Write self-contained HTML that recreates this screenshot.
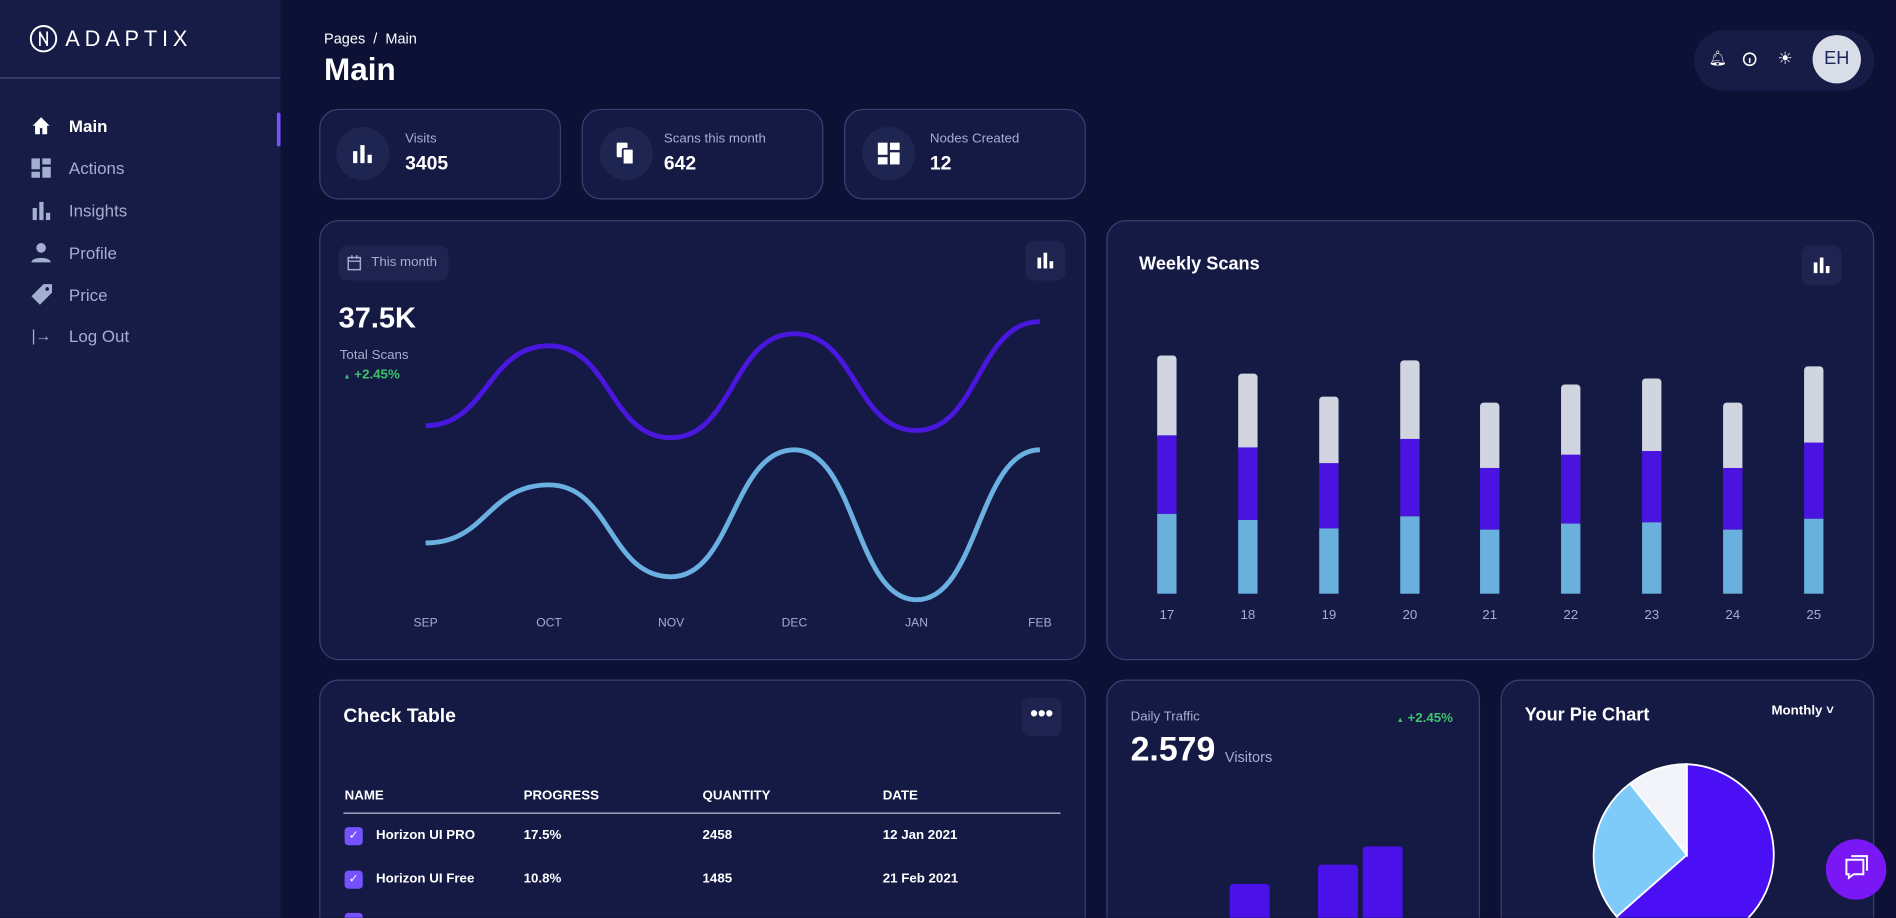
<!DOCTYPE html>
<html><head><meta charset="utf-8"><style>
*{margin:0;padding:0;box-sizing:border-box}
html,body{width:1896px;height:918px;overflow:hidden;background:#0e1136;font-family:"Liberation Sans",sans-serif}
#w{width:1568px;height:759px;transform:scale(1.20918);transform-origin:0 0;position:relative;background:#0e1136;overflow:hidden}
.a{position:absolute}
.card{position:absolute;background:#151a45;border:1px solid #3a4070;border-radius:16px}
.t{position:absolute;color:#fff;white-space:nowrap}
.g{color:#a3aed0}
</style></head><body><div id="w">
<div class="a" style="left:0;top:0;width:232px;height:759px;background:#171c47"></div>
<svg class="a" style="left:24px;top:20px" width="24" height="24"><circle cx="12" cy="12" r="10.5" fill="none" stroke="#fff" stroke-width="1.6"/><path d="M9 6v12M15 6v12M9 7l6 10" stroke="#fff" stroke-width="1.4" fill="none"/></svg>
<div class="t" style="left:54px;top:22px;font-size:18px;letter-spacing:4px;font-weight:300">ADAPTIX</div>
<div class="a" style="left:0;top:64px;width:232px;height:1px;background:#4a5080"></div>
<div class="a" style="left:229px;top:93px;width:3px;height:28px;background:#7551ff;border-radius:2px"></div>
<svg class="a" style="left:25px;top:95px" width="18" height="18"><path d="M2 9L9 2l7 7h-2v7h-4v-5H8v5H4V9z" fill="#fff"/></svg>
<div class="t" style="left:57px;top:96px;font-size:14px;font-weight:bold">Main</div>
<svg class="a" style="left:25px;top:130px" width="18" height="18"><rect x="1" y="1" width="7" height="9" fill="#a3aed0"/><rect x="10" y="1" width="7" height="5" fill="#a3aed0"/><rect x="1" y="12" width="7" height="5" fill="#a3aed0"/><rect x="10" y="8" width="7" height="9" fill="#a3aed0"/></svg>
<div class="t g" style="left:57px;top:131px;font-size:14px">Actions</div>
<svg class="a" style="left:25px;top:165px" width="18" height="18"><rect x="2" y="7" width="3.5" height="10" fill="#a3aed0"/><rect x="7.5" y="2" width="3.5" height="15" fill="#a3aed0"/><rect x="13" y="11" width="3.5" height="6" fill="#a3aed0"/></svg>
<div class="t g" style="left:57px;top:166px;font-size:14px">Insights</div>
<svg class="a" style="left:25px;top:200px" width="18" height="18"><circle cx="9" cy="5" r="4" fill="#a3aed0"/><path d="M1 17c0-5 16-5 16 0z" fill="#a3aed0"/></svg>
<div class="t g" style="left:57px;top:201px;font-size:14px">Profile</div>
<svg class="a" style="left:24px;top:234px" width="20" height="20"><path d="M12 1h7v7L9 18 2 11z" fill="#a3aed0"/><circle cx="15" cy="5" r="1.5" fill="#171c47"/></svg>
<div class="t g" style="left:57px;top:236px;font-size:14px">Price</div>
<div class="t g" style="left:26px;top:270px;font-size:13px">|→</div>
<div class="t g" style="left:57px;top:270px;font-size:14px">Log Out</div>

<div class="t" style="left:268px;top:25px;font-size:12px">Pages &nbsp;/&nbsp; Main</div>
<div class="t" style="left:268px;top:42px;font-size:26px;font-weight:bold">Main</div>
<div class="a" style="left:1401px;top:25px;width:149px;height:50px;background:#171c47;border-radius:25px"></div>
<div class="t" style="left:1413px;top:41px;font-size:12px">🔔︎</div>
<svg class="a" style="left:1441px;top:43px" width="12" height="12"><circle cx="6" cy="6" r="5" stroke="#fff" fill="none" stroke-width="1.3"/><path d="M6 5v4" stroke="#fff" stroke-width="1.3"/></svg>
<div class="t" style="left:1470px;top:40px;font-size:14px">☀</div>
<div class="a" style="left:1499px;top:29px;width:40px;height:40px;border-radius:50%;background:#d9dde8;color:#1b2559;font-size:15px;text-align:center;line-height:40px">EH</div>

<div class="card" style="left:264px;top:90px;width:200px;height:75px"></div>
<div class="card" style="left:481px;top:90px;width:200px;height:75px"></div>
<div class="card" style="left:698px;top:90px;width:200px;height:75px"></div>
<div class="a" style="left:278px;top:105px;width:44px;height:44px;border-radius:50%;background:#1f2551"></div>
<div class="a" style="left:496px;top:105px;width:44px;height:44px;border-radius:50%;background:#1f2551"></div>
<div class="a" style="left:713px;top:105px;width:44px;height:44px;border-radius:50%;background:#1f2551"></div>
<svg class="a" style="left:291px;top:119px" width="18" height="16"><rect x="1" y="6" width="3.5" height="10" fill="#fff"/><rect x="7" y="1" width="3.5" height="15" fill="#fff"/><rect x="13" y="9" width="3.5" height="7" fill="#fff"/></svg>
<svg class="a" style="left:508px;top:117px" width="18" height="20"><rect x="2" y="1" width="9" height="12" rx="1" fill="#fff"/><rect x="7" y="6" width="9" height="13" rx="1" fill="#fff" stroke="#1f2551" stroke-width="1.5"/></svg>
<svg class="a" style="left:725px;top:117px" width="20" height="20"><rect x="1" y="1" width="8" height="10" fill="#fff"/><rect x="11" y="1" width="8" height="6" fill="#fff"/><rect x="1" y="13" width="8" height="6" fill="#fff"/><rect x="11" y="9" width="8" height="10" fill="#fff"/></svg>
<div class="t g" style="left:335px;top:109px;font-size:11px">Visits</div>
<div class="t" style="left:335px;top:127px;font-size:16px;font-weight:bold">3405</div>
<div class="t g" style="left:549px;top:109px;font-size:11px">Scans this month</div>
<div class="t" style="left:549px;top:127px;font-size:16px;font-weight:bold">642</div>
<div class="t g" style="left:769px;top:109px;font-size:11px">Nodes Created</div>
<div class="t" style="left:769px;top:127px;font-size:16px;font-weight:bold">12</div>

<div class="card" style="left:264px;top:182px;width:634px;height:364px"></div>
<div class="a" style="left:280px;top:203px;width:91px;height:29px;background:#1e2350;border-radius:7px"></div>
<svg class="a" style="left:287px;top:211px" width="12" height="13"><rect x="1" y="2" width="10" height="10" fill="none" stroke="#a3aed0" stroke-width="1.2"/><path d="M1 5h10M4 0v3M8 0v3" stroke="#a3aed0" stroke-width="1.2"/></svg>
<div class="t g" style="left:307px;top:211px;font-size:11px">This month</div>
<div class="a" style="left:848px;top:199px;width:33px;height:33px;background:#1e2350;border-radius:7px"></div>
<svg class="a" style="left:857px;top:208px" width="16" height="14"><rect x="1" y="5" width="3" height="9" fill="#fff"/><rect x="6" y="1" width="3" height="13" fill="#fff"/><rect x="11" y="8" width="3" height="6" fill="#fff"/></svg>
<div class="t" style="left:280px;top:250px;font-size:24px;font-weight:bold">37.5K</div>
<div class="t g" style="left:281px;top:288px;font-size:11px">Total Scans</div>
<div class="t" style="left:284px;top:304px;font-size:11px;color:#3cc36a;font-weight:bold"><span style="font-size:6px">▲</span> +2.45%</div>
<svg class="a" style="left:0;top:0" width="900" height="560">
<path d="M352 352 C403 352 403 286 454 286 S504 362 555 362 S606 276 657 276 S707 356 758 356 S809 266 860 266" fill="none" stroke="#4a17e0" stroke-width="4"/>
<path d="M352 449 C403 449 403 401 454 401 S504 477 555 477 S606 372 657 372 S707 496 758 496 S809 372 860 372" fill="none" stroke="#6ab0e0" stroke-width="4"/>
<g fill="#a3aed0" font-size="10" text-anchor="middle" font-family="Liberation Sans"><text x="352" y="518">SEP</text><text x="454" y="518">OCT</text><text x="555" y="518">NOV</text><text x="657" y="518">DEC</text><text x="758" y="518">JAN</text><text x="860" y="518">FEB</text></g>
</svg>

<div class="card" style="left:915px;top:182px;width:635px;height:364px"></div>
<div class="t" style="left:942px;top:210px;font-size:15px;font-weight:bold">Weekly Scans</div>
<div class="a" style="left:1490px;top:203px;width:33px;height:33px;background:#1e2350;border-radius:7px"></div>
<svg class="a" style="left:1499px;top:212px" width="16" height="14"><rect x="1" y="5" width="3" height="9" fill="#fff"/><rect x="6" y="1" width="3" height="13" fill="#fff"/><rect x="11" y="8" width="3" height="6" fill="#fff"/></svg>
<svg class="a" style="left:0;top:0" width="1568" height="560">
<g font-family="Liberation Sans" font-size="11" fill="#a3aed0" text-anchor="middle">
<text x="965" y="512">17</text><text x="1032" y="512">18</text><text x="1099" y="512">19</text><text x="1166" y="512">20</text><text x="1232" y="512">21</text><text x="1299" y="512">22</text><text x="1366" y="512">23</text><text x="1433" y="512">24</text><text x="1500" y="512">25</text></g>
<g>
<rect x="957" y="294" width="16" height="70" rx="3" fill="#d0d5e0"/><rect x="957" y="360" width="16" height="65" fill="#4a13e0"/><rect x="957" y="425" width="16" height="66" fill="#6ab0dc"/>
<rect x="1024" y="309" width="16" height="65" rx="3" fill="#d0d5e0"/><rect x="1024" y="370" width="16" height="60" fill="#4a13e0"/><rect x="1024" y="430" width="16" height="61" fill="#6ab0dc"/>
<rect x="1091" y="328" width="16" height="59" rx="3" fill="#d0d5e0"/><rect x="1091" y="383" width="16" height="54" fill="#4a13e0"/><rect x="1091" y="437" width="16" height="54" fill="#6ab0dc"/>
<rect x="1158" y="298" width="16" height="69" rx="3" fill="#d0d5e0"/><rect x="1158" y="363" width="16" height="64" fill="#4a13e0"/><rect x="1158" y="427" width="16" height="64" fill="#6ab0dc"/>
<rect x="1224" y="333" width="16" height="58" rx="3" fill="#d0d5e0"/><rect x="1224" y="387" width="16" height="51" fill="#4a13e0"/><rect x="1224" y="438" width="16" height="53" fill="#6ab0dc"/>
<rect x="1291" y="318" width="16" height="62" rx="3" fill="#d0d5e0"/><rect x="1291" y="376" width="16" height="57" fill="#4a13e0"/><rect x="1291" y="433" width="16" height="58" fill="#6ab0dc"/>
<rect x="1358" y="313" width="16" height="64" rx="3" fill="#d0d5e0"/><rect x="1358" y="373" width="16" height="59" fill="#4a13e0"/><rect x="1358" y="432" width="16" height="59" fill="#6ab0dc"/>
<rect x="1425" y="333" width="16" height="58" rx="3" fill="#d0d5e0"/><rect x="1425" y="387" width="16" height="51" fill="#4a13e0"/><rect x="1425" y="438" width="16" height="53" fill="#6ab0dc"/>
<rect x="1492" y="303" width="16" height="67" rx="3" fill="#d0d5e0"/><rect x="1492" y="366" width="16" height="63" fill="#4a13e0"/><rect x="1492" y="429" width="16" height="62" fill="#6ab0dc"/>
</g></svg>

<div class="card" style="left:264px;top:562px;width:634px;height:220px"></div>
<div class="t" style="left:284px;top:584px;font-size:16px;font-weight:bold">Check Table</div>
<div class="a" style="left:845px;top:577px;width:33px;height:32px;background:#1e2350;border-radius:7px;color:#fff;text-align:center;font-size:18px;line-height:26px;font-weight:bold">•••</div>
<div class="t" style="left:285px;top:652px;font-size:11px;font-weight:bold">NAME</div>
<div class="t" style="left:433px;top:652px;font-size:11px;font-weight:bold">PROGRESS</div>
<div class="t" style="left:581px;top:652px;font-size:11px;font-weight:bold">QUANTITY</div>
<div class="t" style="left:730px;top:652px;font-size:11px;font-weight:bold">DATE</div>
<div class="a" style="left:284px;top:672px;width:593px;height:1px;background:#c0c4d8"></div>
<div class="a" style="left:285px;top:684px;width:15px;height:15px;background:#7551ff;border-radius:3px;color:#fff;font-size:10px;text-align:center;line-height:15px">✓</div>
<div class="t" style="left:311px;top:685px;font-size:11px;font-weight:bold">Horizon UI PRO</div>
<div class="t" style="left:433px;top:685px;font-size:11px;font-weight:bold">17.5%</div>
<div class="t" style="left:581px;top:685px;font-size:11px;font-weight:bold">2458</div>
<div class="t" style="left:730px;top:685px;font-size:11px;font-weight:bold">12 Jan 2021</div>
<div class="a" style="left:285px;top:720px;width:15px;height:15px;background:#7551ff;border-radius:3px;color:#fff;font-size:10px;text-align:center;line-height:15px">✓</div>
<div class="t" style="left:311px;top:721px;font-size:11px;font-weight:bold">Horizon UI Free</div>
<div class="t" style="left:433px;top:721px;font-size:11px;font-weight:bold">10.8%</div>
<div class="t" style="left:581px;top:721px;font-size:11px;font-weight:bold">1485</div>
<div class="t" style="left:730px;top:721px;font-size:11px;font-weight:bold">21 Feb 2021</div>
<div class="a" style="left:285px;top:755px;width:15px;height:15px;background:#7551ff;border-radius:3px"></div>

<div class="card" style="left:915px;top:562px;width:309px;height:220px"></div>
<div class="t g" style="left:935px;top:587px;font-size:11px">Daily Traffic</div>
<div class="t" style="left:1155px;top:588px;font-size:11px;color:#3cc36a;font-weight:bold"><span style="font-size:6px">▲</span> +2.45%</div>
<div class="t" style="left:935px;top:604px;font-size:28px;font-weight:bold">2.579</div>
<div class="t g" style="left:1013px;top:619px;font-size:12px">Visitors</div>
<div class="a" style="left:1017px;top:731px;width:33px;height:40px;background:#4a12e8;border-radius:3px 3px 0 0"></div>
<div class="a" style="left:1090px;top:715px;width:33px;height:60px;background:#4a12e8;border-radius:3px 3px 0 0"></div>
<div class="a" style="left:1127px;top:700px;width:33px;height:70px;background:#4a12e8;border-radius:3px 3px 0 0"></div>

<div class="card" style="left:1241px;top:562px;width:309px;height:220px"></div>
<div class="t" style="left:1261px;top:583px;font-size:15px;font-weight:bold">Your Pie Chart</div>
<div class="t" style="left:1465px;top:582px;font-size:11px;font-weight:bold">Monthly ˅</div>
<svg class="a" style="left:0;top:0" width="1568" height="759">
<path d="M1395 707 L1395 632 A75 75 0 1 1 1337 758 Z" fill="#4a0ff5" stroke="#fff" stroke-width="1.5"/>
<path d="M1395 707 L1337 758 A75 75 0 0 1 1348 648 Z" fill="#7ecbfa" stroke="#fff" stroke-width="1.5"/>
<path d="M1395 707 L1348 648 A75 75 0 0 1 1395 632 Z" fill="#f2f4f9" stroke="#fff" stroke-width="1.5"/>
<circle cx="1535" cy="719" r="25" fill="#7a18f5"/>
<path d="M1527 711h14v12h-8l-4 3v-3h-2z" fill="none" stroke="#fff" stroke-width="1.6"/><path d="M1531 708h13v12" fill="none" stroke="#fff" stroke-width="1.6"/>
</svg>
</div></body></html>
